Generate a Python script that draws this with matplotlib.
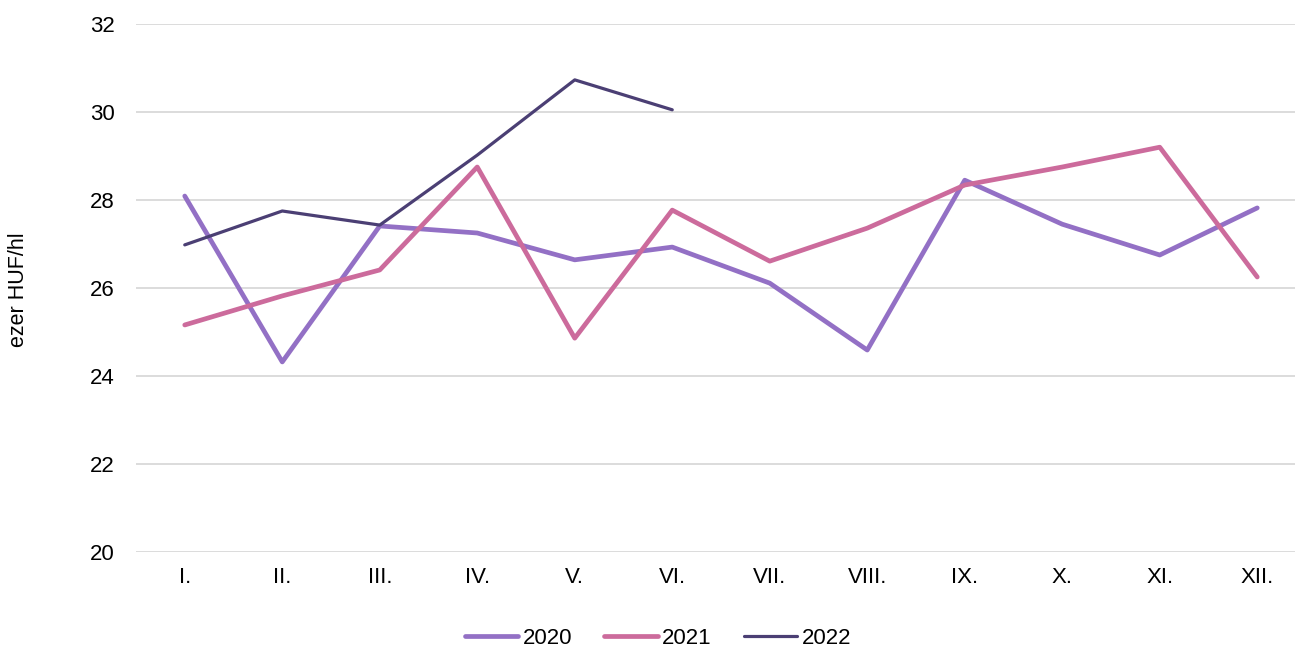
import matplotlib
matplotlib.use("Agg")
import matplotlib.pyplot as plt

months = ["I.", "II.", "III.", "IV.", "V.", "VI.", "VII.", "VIII.", "IX.", "X.", "XI.", "XII."]
s2020 = [28.09, 24.32, 27.41, 27.25, 26.64, 26.93, 26.11, 24.59, 28.45, 27.45, 26.75, 27.82]
s2021 = [25.16, 25.82, 26.41, 28.75, 24.86, 27.77, 26.61, 27.36, 28.34, 28.75, 29.20, 26.25]
s2022 = [26.98, 27.75, 27.43, 29.02, 30.73, 30.05]

plt.rcParams['font.family'] = ['Liberation Sans', 'DejaVu Sans']

W, H = 1295, 648
fig = plt.figure(figsize=(W / 100, H / 100), dpi=100)
left, right, top, bottom = 136, 1306, 24, 552
ax = fig.add_axes([left / W, 1 - bottom / H, (right - left) / W, (bottom - top) / H])

x = list(range(len(months)))
ax.plot(x, s2020, color="#9370c5", lw=3.4, label="2020", solid_capstyle="round", zorder=3)
ax.plot(x, s2021, color="#cc6b9c", lw=3.4, label="2021", solid_capstyle="round", zorder=4)
ax.plot(x[:len(s2022)], s2022, color="#4b3f74", lw=2.3, label="2022", solid_capstyle="round", zorder=5)

ax.set_xlim(-0.5, 11.5)
ax.set_ylim(20, 32)
ax.set_yticks(range(20, 33, 2))
ax.set_xticks(x)
ax.set_xticklabels(months)
ax.grid(axis="y", color="#d9d9d9", lw=1.3)
ax.set_axisbelow(True)
for sp in ax.spines.values():
    sp.set_visible(False)
ax.tick_params(axis="both", length=0, labelsize=16, colors="black")
ax.tick_params(axis="y", pad=15.5)
ax.tick_params(axis="x", pad=11)
fig.text(19 / W, 1 - 290 / H, "ezer HUF/hl", rotation=90, fontsize=15.5, ha="center", va="center")

leg = fig.legend(loc="center", bbox_to_anchor=(658 / W, 1 - 638 / H), ncol=3, frameon=False,
                 fontsize=16, handlelength=2.4, handletextpad=0.2, columnspacing=1.45)

fig.savefig("out.png", dpi=100)
